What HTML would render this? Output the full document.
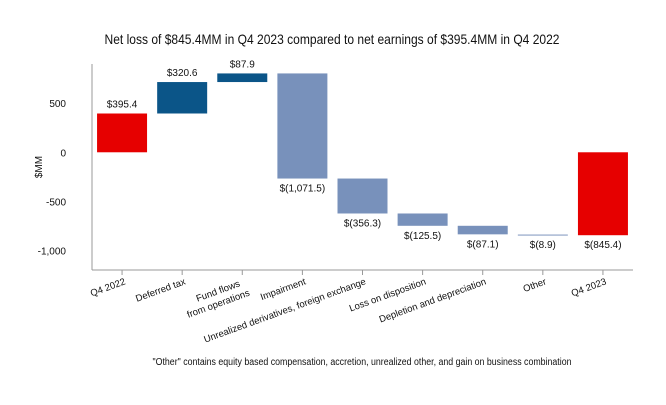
<!DOCTYPE html>
<html><head><meta charset="utf-8"><style>
body{margin:0;background:#fff;font-family:"Liberation Sans",Arial,sans-serif}
svg text{font-family:"Liberation Sans",Arial,sans-serif}
</style></head><body>
<svg id="chart" width="666" height="400">
<text x="332" y="44" text-anchor="middle" font-size="14" fill="#111" textLength="455" lengthAdjust="spacingAndGlyphs">Net loss of $845.4MM in Q4 2023 compared to net earnings of $395.4MM in Q4 2022</text>
<text x="42" y="167" text-anchor="middle" font-size="10" fill="#111" transform="rotate(-90 42 167)">$MM</text>
<text x="362" y="365" text-anchor="middle" font-size="10" fill="#111" textLength="419" lengthAdjust="spacingAndGlyphs">"Other" contains equity based compensation, accretion, unrealized other, and gain on business combination</text>
<g id="marks"></g>
</svg>
<script>
const categories = ["Q4 2022","Deferred tax","Fund flows|from operations","Impairment","Unrealized derivatives, foreign exchange","Loss on disposition","Depletion and depreciation","Other","Q4 2023"];
const values = [395.4, 320.6, 87.9, -1071.5, -356.3, -125.5, -87.1, -8.9, -845.4];
const valueLabels = ["$395.4","$320.6","$87.9","$(1,071.5)","$(356.3)","$(125.5)","$(87.1)","$(8.9)","$(845.4)"];
const kinds = ["total","up","up","down","down","down","down","other","total"];
const yTicks = [500, 0, -500, -1000];
const yTickLabels = ["500","0","-500","-1,000"];

const NS = "http://www.w3.org/2000/svg";
const g = document.getElementById("marks");
const x0 = 92, x1 = 633, yTop = 64, yBot = 270, dMin = -1200, dMax = 900;
const step = (x1 - x0) / categories.length;
const y = v => yBot - (v - dMin) / (dMax - dMin) * (yBot - yTop);
const xc = i => x0 + step * (i + 0.5);
function el(t, a) { const e = document.createElementNS(NS, t); for (const k in a) e.setAttribute(k, a[k]); g.appendChild(e); return e; }
const colors = {total:"#e60000", up:"#0b5588", down:"#7891bb", other:"#a9b8d4"};

let ax = el("line", {x1:x0, y1:yTop, x2:x0, y2:yBot, stroke:"#999"});


let bx = el("line", {x1:x0, y1:yBot, x2:x1, y2:yBot, stroke:"#999"});



yTicks.forEach((v, i) => {
  const t = el("text", {x:x0 - 26, y:y(v) + 4, "text-anchor":"end", "font-size":"10", fill:"#111"});
  t.textContent = yTickLabels[i];
  
  
});

let run = 0;
values.forEach((v, i) => {
  let a, b;
  if (kinds[i] === "total") { a = 0; b = v; run = v; }
  else { a = run; b = run + v; run = b; }
  const top = y(Math.max(a, b)), bot = y(Math.min(a, b));
  const r = el("rect", {x:xc(i) - 25, y:top, width:50, height:Math.max(bot - top, 1.5), fill:colors[kinds[i]]});
  
  
  const lt = el("text", {x:xc(i), y: v >= 0 ? top - 6 : bot + 13, "text-anchor":"middle", "font-size":"10", fill:"#111"});
  lt.textContent = valueLabels[i];
  
  
  const tk = el("line", {x1:xc(i), y1:yBot, x2:xc(i), y2:yBot + 5, stroke:"#999"});
  
  
  const lines = categories[i].split("|");
  const cx = xc(i) + 4, cy = yBot + 14;
  const ct = el("text", {x:cx, y:cy, "text-anchor":"end", "font-size":"9.5", fill:"#111", transform:`rotate(-20 ${cx} ${cy})`});
  
  
  lines.forEach((s, j) => {
    const sp = document.createElementNS(NS, "tspan");
    sp.setAttribute("x", cx + (j === 0 && lines.length > 1 ? -6 : 0));
    sp.setAttribute("dy", j === 0 ? 0 : 12);
    sp.textContent = s;
    ct.appendChild(sp);
  });
});
</script>
</body></html>
